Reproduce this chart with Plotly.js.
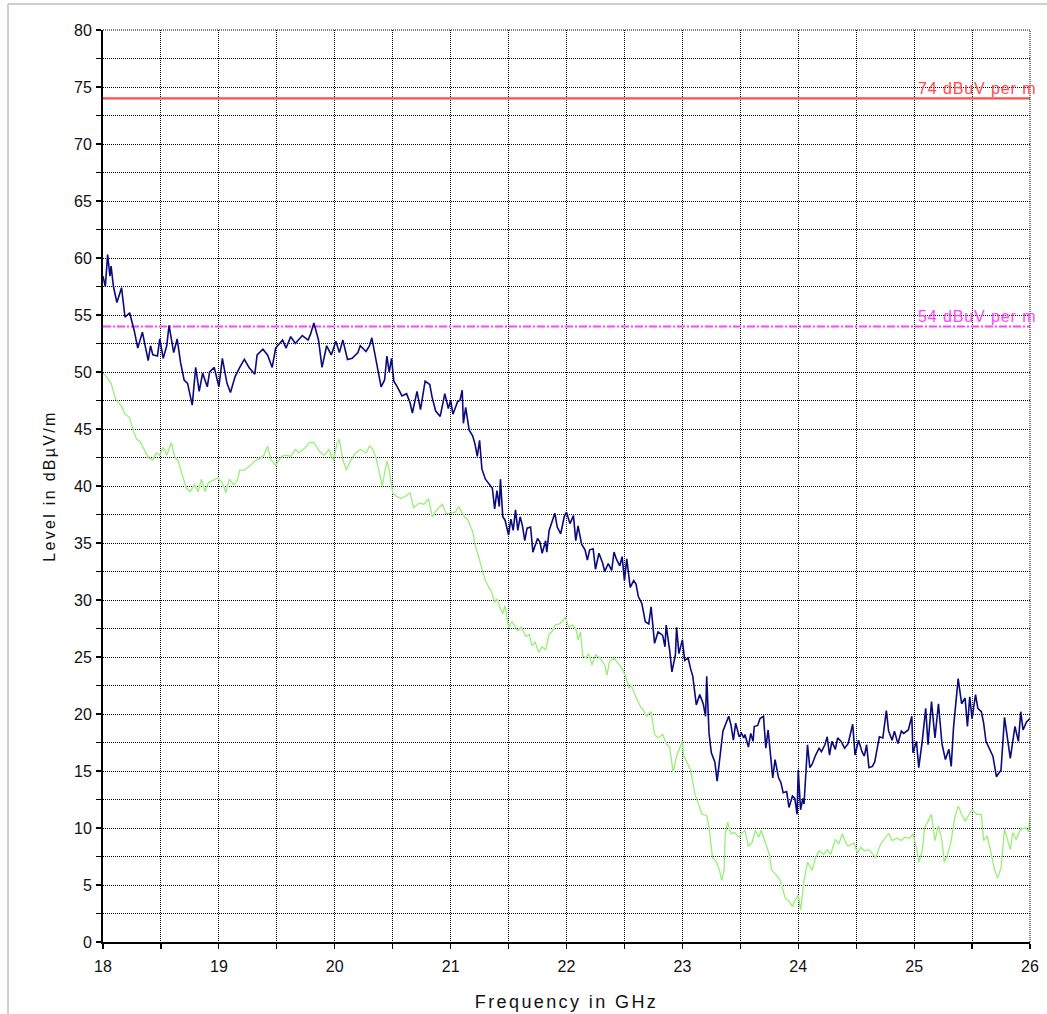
<!DOCTYPE html>
<html>
<head>
<meta charset="utf-8">
<script src="https://cdn.plot.ly/plotly-3.0.1.min.js"></script>
<style>
  html, body { margin: 0; padding: 0; background: #fff; }
  #chart { width: 1047px; height: 1014px; }
  .xtitle { letter-spacing: 2.4px; }
  .ytitle { letter-spacing: 2.3px; }
  .annotation-text { letter-spacing: 0.9px; }
</style>
</head>
<body>
<div id="chart"></div>
<script>
// ---- Data ----
const peakFreq = [
18.00,18.02,18.04,18.06,18.07,18.09,18.12,18.16,18.19,18.23,18.27,18.30,18.34,18.39,18.41,18.43,18.47,18.49,18.52,18.55,
18.57,18.61,18.64,18.67,18.70,18.73,18.77,18.80,18.83,18.86,18.90,18.92,18.96,19.00,19.03,19.07,19.10,19.14,19.18,19.22,
19.26,19.31,19.33,19.38,19.42,19.46,19.49,19.55,19.58,19.62,19.66,19.72,19.77,19.79,19.82,19.86,19.89,19.93,19.97,20.01,
20.04,20.07,20.11,20.15,20.20,20.22,20.27,20.30,20.32,20.35,20.40,20.43,20.45,20.47,20.49,20.51,20.54,20.58,20.62,20.65,
20.67,20.71,20.74,20.78,20.82,20.84,20.87,20.91,20.95,20.98,21.00,21.02,21.06,21.08,21.10,21.11,21.13,21.16,21.19,21.21,
21.23,21.25,21.27,21.30,21.34,21.36,21.38,21.40,21.42,21.43,21.45,21.47,21.50,21.52,21.54,21.56,21.58,21.60,21.62,21.64,
21.66,21.69,21.71,21.75,21.77,21.79,21.82,21.83,21.85,21.87,21.90,21.92,21.95,21.98,22.00,22.03,22.06,22.08,22.10,22.13,
22.16,22.18,22.20,22.23,22.25,22.28,22.31,22.33,22.36,22.39,22.41,22.43,22.46,22.48,22.50,22.52,22.55,22.58,22.60,22.62,
22.65,22.68,22.71,22.73,22.76,22.79,22.83,22.85,22.86,22.89,22.91,22.94,22.95,22.97,23.00,23.02,23.05,23.07,23.09,23.12,
23.15,23.18,23.20,23.21,23.23,23.25,23.28,23.30,23.32,23.35,23.40,23.42,23.44,23.46,23.49,23.51,23.53,23.54,23.57,23.59,
23.61,23.62,23.65,23.67,23.70,23.72,23.74,23.76,23.78,23.80,23.83,23.85,23.87,23.90,23.92,23.95,23.97,23.99,24.00,24.02,
24.04,24.05,24.08,24.10,24.12,24.15,24.18,24.20,24.23,24.25,24.27,24.29,24.32,24.34,24.37,24.40,24.43,24.47,24.49,24.52,
24.55,24.57,24.59,24.61,24.64,24.66,24.70,24.73,24.76,24.78,24.81,24.83,24.86,24.89,24.91,24.95,24.98,24.99,25.02,25.04,
25.07,25.10,25.12,25.15,25.18,25.21,25.24,25.27,25.30,25.32,25.34,25.38,25.41,25.44,25.46,25.48,25.50,25.53,25.55,25.58,
25.60,25.62,25.65,25.68,25.71,25.75,25.78,25.80,25.83,25.87,25.90,25.92,25.94,25.97,26.00
];
const peakLevel = [
58.4,57.5,60.3,58.4,59.3,57.5,56.1,57.4,54.8,55.2,53.6,52.1,53.5,51.0,52.3,51.5,51.4,52.9,51.2,52.3,
54.1,51.7,52.9,50.8,49.3,49.0,47.1,50.4,48.3,49.9,48.7,50.0,50.4,48.7,51.2,49.0,48.2,49.6,50.4,51.1,
50.4,49.8,51.5,52.0,51.5,50.4,52.1,52.8,52.1,53.1,52.5,53.2,52.8,53.3,54.3,52.8,50.4,52.3,51.5,52.7,
51.7,52.8,51.1,51.2,51.7,52.3,51.8,52.3,53.0,51.5,48.7,49.3,51.4,50.0,51.2,49.2,48.7,47.9,48.1,47.3,
46.4,48.3,46.7,49.2,48.9,47.8,46.6,46.1,48.1,46.8,47.5,46.3,47.4,47.5,48.4,45.5,46.9,44.9,44.4,43.7,
42.6,44.0,41.5,40.6,40.1,39.8,38.0,39.6,38.2,40.6,37.3,37.0,35.7,37.1,36.1,37.9,36.1,37.3,36.5,35.2,
36.3,36.4,34.2,35.4,35.1,34.1,35.2,34.2,36.1,36.7,37.6,36.4,35.8,37.3,37.7,36.7,37.4,35.2,36.5,34.9,
34.4,33.5,34.4,34.5,32.7,34.1,33.3,32.5,33.2,32.6,34.2,33.6,33.0,33.8,31.7,33.6,31.1,31.7,31.4,30.3,
29.7,28.1,27.9,29.4,26.2,27.2,26.9,25.9,27.8,25.6,23.7,25.2,27.6,25.3,26.5,24.7,24.9,24.0,23.3,20.8,
21.7,20.9,19.8,23.3,18.3,16.6,15.8,14.1,15.7,18.5,19.8,19.0,17.7,19.2,18.0,18.3,17.9,18.2,17.1,18.3,
17.6,18.9,19.0,19.6,19.8,17.0,18.6,16.1,14.4,16.0,14.4,14.0,13.1,13.2,11.8,12.8,12.6,11.2,15.1,11.6,
12.6,12.1,17.3,15.3,15.6,16.4,17.0,16.7,17.3,18.0,16.4,17.6,16.9,17.9,17.6,17.0,17.4,19.1,16.4,17.7,
16.7,16.3,17.3,15.3,15.4,15.8,18.0,17.9,20.3,18.5,17.7,18.5,17.4,18.5,18.3,18.6,19.8,16.6,17.6,15.3,
17.6,20.5,17.3,21.1,17.9,20.9,17.4,16.0,16.9,15.4,18.8,23.1,20.9,21.4,18.9,21.5,19.6,21.7,20.5,20.2,
19.2,17.6,16.9,16.3,14.5,15.1,19.7,18.2,16.1,18.9,17.6,20.2,18.6,19.3,19.6
];

const avgFreq = [
18.00,18.03,18.07,18.11,18.16,18.19,18.23,18.26,18.29,18.32,18.35,18.39,18.43,18.46,18.49,18.52,18.55,18.59,18.62,18.65,
18.68,18.72,18.75,18.79,18.82,18.85,18.88,18.91,18.95,18.99,19.03,19.06,19.09,19.13,19.16,19.18,19.22,19.26,19.31,19.35,
19.39,19.42,19.45,19.49,19.54,19.58,19.62,19.66,19.69,19.74,19.78,19.82,19.87,19.91,19.95,19.99,20.02,20.04,20.07,20.10,
20.14,20.18,20.22,20.27,20.30,20.33,20.36,20.41,20.45,20.47,20.50,20.53,20.57,20.61,20.65,20.68,20.73,20.77,20.81,20.84,
20.88,20.93,20.96,21.00,21.04,21.07,21.10,21.12,21.15,21.19,21.21,21.24,21.27,21.30,21.33,21.35,21.38,21.40,21.43,21.45,
21.47,21.50,21.53,21.56,21.58,21.61,21.65,21.68,21.70,21.73,21.76,21.79,21.82,21.85,21.88,21.90,21.94,21.97,21.99,22.02,
22.05,22.08,22.10,22.12,22.14,22.17,22.19,22.22,22.25,22.29,22.33,22.35,22.37,22.41,22.45,22.48,22.51,22.54,22.56,22.59,
22.64,22.66,22.69,22.73,22.76,22.79,22.83,22.86,22.89,22.92,22.95,22.97,23.00,23.01,23.04,23.07,23.11,23.14,23.17,23.21,
23.23,23.26,23.29,23.32,23.34,23.36,23.37,23.39,23.42,23.45,23.49,23.51,23.54,23.57,23.60,23.63,23.66,23.68,23.71,23.75,
23.77,23.80,23.84,23.86,23.89,23.92,23.95,23.97,24.00,24.02,24.05,24.08,24.12,24.15,24.18,24.22,24.25,24.28,24.30,24.32,
24.35,24.38,24.41,24.43,24.48,24.51,24.54,24.57,24.61,24.64,24.67,24.71,24.74,24.78,24.81,24.85,24.89,24.92,24.96,24.99,
25.02,25.04,25.07,25.09,25.12,25.15,25.18,25.21,25.24,25.26,25.29,25.32,25.35,25.38,25.41,25.44,25.47,25.50,25.54,25.58,
25.60,25.63,25.66,25.69,25.72,25.75,25.78,25.83,25.85,25.88,25.92,25.96,25.99,26.00
];
const avgLevel = [
49.9,49.6,49.0,47.6,47.0,46.3,46.0,44.9,44.1,43.9,43.3,42.5,42.3,42.9,42.7,43.4,42.7,43.8,42.5,42.2,
41.1,39.8,39.5,40.1,39.5,40.6,39.5,40.3,40.5,40.7,40.3,39.4,40.6,40.1,40.5,41.4,41.4,41.7,42.2,42.4,
42.7,43.5,42.3,41.8,42.6,42.7,42.6,43.2,42.9,43.3,43.8,43.8,43.0,42.7,43.2,42.2,43.8,44.1,42.3,41.4,
42.3,42.9,43.2,42.9,43.5,43.2,42.3,40.0,42.2,41.4,39.4,39.1,38.9,39.1,39.4,38.1,38.5,38.4,38.9,37.3,
37.9,38.4,37.6,37.6,37.7,38.2,37.6,37.3,37.0,36.0,34.9,33.8,32.9,31.7,31.1,30.8,29.8,30.1,29.2,28.8,
29.5,27.6,28.1,27.6,27.3,27.6,26.8,27.0,26.0,26.3,25.4,25.9,25.6,27.0,27.3,27.8,27.9,28.2,28.5,27.6,
27.8,27.5,26.5,27.2,25.1,24.9,25.3,24.3,25.2,24.9,24.3,23.4,24.6,24.9,24.4,24.0,23.3,22.3,22.5,21.7,
20.6,20.4,19.8,20.2,18.2,17.9,18.2,17.4,17.1,14.9,16.3,16.9,17.6,16.4,15.7,15.1,12.9,12.1,11.2,11.1,
10.1,7.4,7.1,6.3,5.4,6.3,9.5,10.5,9.5,9.6,9.2,9.5,9.8,8.4,8.7,9.8,9.2,9.8,8.9,7.7,
6.3,6.0,5.5,4.8,3.8,3.6,3.1,3.6,4.1,2.8,5.4,7.0,6.3,7.4,8.0,7.7,8.1,7.7,8.3,9.0,
8.6,9.5,8.7,8.4,8.7,7.8,8.3,8.0,8.1,7.7,7.4,8.6,9.0,9.5,8.9,9.1,8.9,9.2,9.1,9.5,
8.3,7.0,8.0,10.0,10.6,11.2,8.9,10.2,8.9,7.0,7.7,8.9,10.9,11.9,11.2,10.6,11.1,11.6,11.2,11.2,
8.9,9.3,8.0,6.5,5.6,6.5,9.9,8.1,9.6,9.0,9.9,10.0,9.7,11.0
];

const limitFreq = [18, 26];
const peakLimit = [74, 74];
const avgLimit = [54, 54];
const peakLimitLabel = "74 dBuV per m";
const avgLimitLabel = "54 dBuV per m";

const xRange = [18, 26];
const yRange = [0, 80];

// ---- Styles ----
const gridDash = "1px,1px";
const gridColor = "#000";
const redColor = "#ff4d4d";
const magColor = "#ff44ff";

const traces = [
  { x: limitFreq, y: peakLimit, type: "scatter", mode: "lines",
    line: { color: redColor, width: 2.2 }, hoverinfo: "skip" },
  { x: limitFreq, y: avgLimit, type: "scatter", mode: "lines",
    line: { color: magColor, width: 2, dash: "8px,2px,2px,2px" }, hoverinfo: "skip" },
  { x: avgFreq, y: avgLevel, type: "scatter", mode: "lines",
    line: { color: "#98ef78", width: 1.3 }, hoverinfo: "skip" },
  { x: peakFreq, y: peakLevel, type: "scatter", mode: "lines",
    line: { color: "#0b0b80", width: 1.6 }, hoverinfo: "skip" }
];

const axisCommon = {
  showline: true, linecolor: "#000", linewidth: 2,
  ticks: "outside", ticklen: 5, tickwidth: 1.2, tickcolor: "#000",
  showgrid: true, gridcolor: gridColor, gridwidth: 1, griddash: gridDash,
  zeroline: false,
  tickfont: { family: "Liberation Sans, Arial, sans-serif", size: 16, color: "#111" }
};

const layout = {
  width: 1047, height: 1014,
  margin: { l: 103, r: 17, t: 30, b: 72, pad: 0 },
  paper_bgcolor: "#fff", plot_bgcolor: "#fff",
  showlegend: false,
  font: { family: "Liberation Sans, Arial, sans-serif", color: "#111" },
  xaxis: Object.assign({}, axisCommon, {
    range: xRange, tick0: 18, dtick: 1,
    minor: { dtick: 0.5, ticks: "outside", ticklen: 5, tickwidth: 1.2, tickcolor: "#000",
             showgrid: true, gridcolor: gridColor, gridwidth: 1, griddash: gridDash },
    ticklabelstandoff: 4,
    title: { text: "Frequency in GHz", font: { size: 18, color: "#111" }, standoff: 21 }
  }),
  yaxis: Object.assign({}, axisCommon, {
    range: yRange, tick0: 0, dtick: 5,
    minor: { dtick: 2.5, ticks: "outside", ticklen: 5, tickwidth: 1.2, tickcolor: "#000",
             showgrid: true, gridcolor: gridColor, gridwidth: 1, griddash: gridDash },
    ticklabelstandoff: 1,
    title: { text: "Level in dBµV/m", font: { size: 16, color: "#111" }, standoff: 14 }
  }),
  shapes: [
    // dotted grid at the top and right edges
    { type: "line", xref: "paper", yref: "paper", x0: 0, x1: 1, y0: 1, y1: 1,
      line: { color: gridColor, width: 1, dash: gridDash } },
    { type: "line", xref: "paper", yref: "paper", x0: 1, x1: 1, y0: 0, y1: 1,
      line: { color: gridColor, width: 1, dash: gridDash } },
    // light outer frame
    { type: "line", xref: "paper", yref: "paper", x0: -0.1025, x1: 1.05, y0: 1.0285, y1: 1.0285,
      line: { color: "#cfcfcf", width: 2 } },
    { type: "line", xref: "paper", yref: "paper", x0: -0.1025, x1: -0.1025, y0: -0.1, y1: 1.0285,
      line: { color: "#cfcfcf", width: 2 } }
  ],
  annotations: [
    { x: limitFreq[1], y: peakLimit[0], xref: "x", yref: "y", text: peakLimitLabel,
      showarrow: false, xanchor: "right", yanchor: "bottom", xshift: 8, yshift: -1,
      font: { size: 16, color: redColor } },
    { x: limitFreq[1], y: avgLimit[0], xref: "x", yref: "y", text: avgLimitLabel,
      showarrow: false, xanchor: "right", yanchor: "bottom", xshift: 8, yshift: -1,
      font: { size: 16, color: magColor } }
  ]
};

Plotly.newPlot("chart", traces, layout, { staticPlot: true, displayModeBar: false });
</script>
</body>
</html>
